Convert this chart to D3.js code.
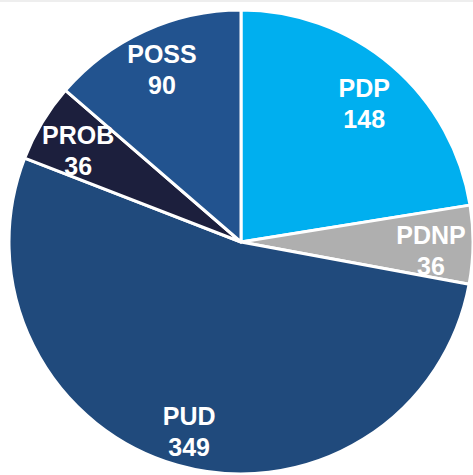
<!DOCTYPE html>
<html><head><meta charset="utf-8">
<script src="https://cdn.jsdelivr.net/npm/d3@7"></script>
<style>html,body{margin:0;padding:0;background:#fff;}svg{display:block;}</style>
</head><body>
<svg id="chart" width="473" height="475"></svg>
<script>
const categories = ["PDP", "PDNP", "PUD", "PROB", "POSS"];
const values = [148, 36, 349, 36, 90];
const colors = ["#00AFEF", "#AFAFAF", "#204A7C", "#1C1F3D", "#22538F"];

const svg = d3.select("#chart");
const W = 473, H = 475;
const cx = 241, cy = 242, R = 232;

// faint top border
svg.append("rect").attr("x", 0).attr("y", 0).attr("width", W).attr("height", 2).attr("fill", "#eeeeee");

const data = categories.map((c, i) => ({cat: c, val: values[i], color: colors[i]}));
const pie = d3.pie().sort(null).value(d => d.val).startAngle(0).endAngle(2 * Math.PI);
const arcs = pie(data);
const arc = d3.arc().innerRadius(0).outerRadius(R);
const labelArc = d3.arc().innerRadius(190).outerRadius(190);

const g = svg.append("g").attr("transform", `translate(${cx},${cy})`);
g.selectAll("path").data(arcs).join("path")
  .attr("d", arc)
  .attr("fill", d => d.data.color)
  .attr("stroke", "#ffffff")
  .attr("stroke-width", 3)
  .attr("stroke-linejoin", "round");

const lbl = g.selectAll("text.lbl").data(arcs).join("text")
  .attr("class", "lbl")
  .attr("transform", d => {
    const [x, y] = labelArc.centroid(d);
    return `translate(${x},${d.data.cat === "POSS" ? y - 6 : y})`;
  })
  .attr("text-anchor", "middle")
  .attr("fill", "#ffffff")
  .attr("font-family", "'Liberation Sans', Arial, sans-serif")
  .attr("font-weight", "bold")
  .attr("font-size", 25);
lbl.append("tspan").attr("x", 0).attr("y", 0).text(d => d.data.cat);
lbl.append("tspan").attr("x", 0).attr("y", 31).text(d => d.data.val);
</script>
</body></html>
